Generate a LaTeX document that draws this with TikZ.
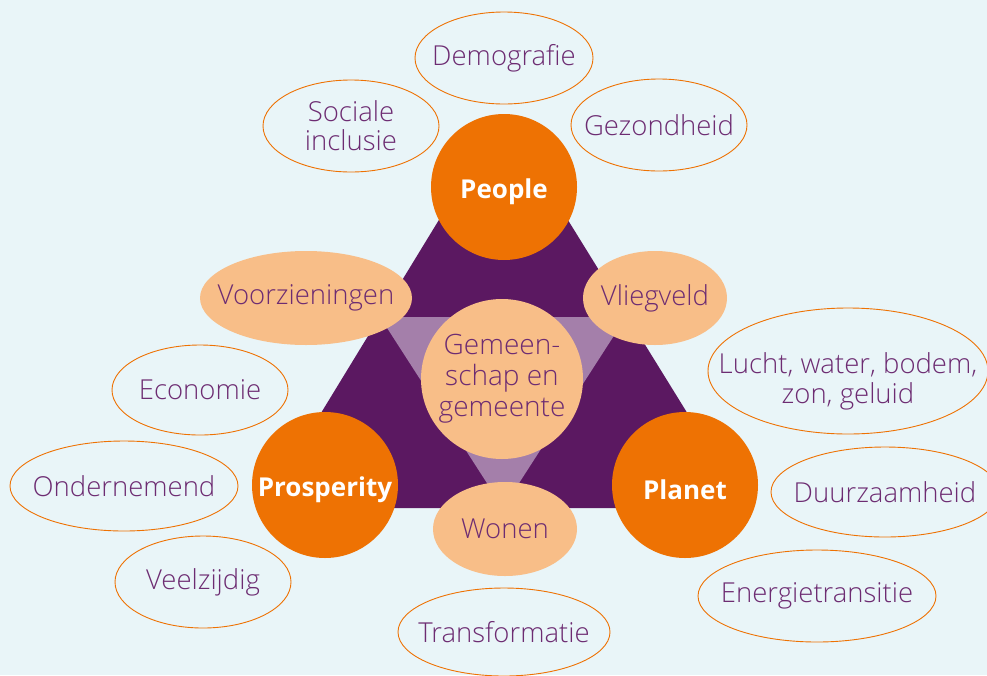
\documentclass[tikz,border=0pt]{standalone}
\usepackage{fontspec}
\setmainfont{Open Sans}[UprightFont=* Light, BoldFont=* Bold]
\usetikzlibrary{shapes.geometric}
\definecolor{bgblue}{HTML}{E9F5F8}
\definecolor{darkpurple}{HTML}{5B1861}
\definecolor{lightpurple}{HTML}{A47FAA}
\definecolor{pillarorange}{HTML}{EE7203}
\definecolor{lightorange}{HTML}{F8BE88}
\definecolor{textpurple}{HTML}{6D2C72}

\begin{document}
\begin{tikzpicture}[x=1pt, y=-1pt,
    every label/.style={text=textpurple, align=center, inner sep=0pt, font=\fontsize{27.5}{29}\selectfont},
    pillar/.style={circle, fill=pillarorange, text=white, inner sep=0pt, minimum size=146pt, font=\fontsize{26}{28}\selectfont\bfseries},
    pillartext/.style={yshift=-5pt},
    theme/.style={ellipse, fill=lightorange, inner sep=0pt},
    topic/.style={ellipse, draw=pillarorange, line width=0.9pt, inner sep=0pt}]
        % Background
        \fill[bgblue] (0,0) rectangle (987,675);
        \useasboundingbox (0,0) rectangle (987,675);
        % Triangles
        \fill[darkpurple] (503,115) -- (746,508) -- (263,508) -- cycle;
        \fill[lightpurple] (380,317) -- (626,317) -- (503,508) -- cycle;
        % Themes
        \node[theme, minimum width=162pt, minimum height=160pt, label={[font=\fontsize{28}{31}\selectfont]center:Gemeen-\\schap en\\gemeente}] (gemeenschap) at (502,379) {};
        \node[theme, minimum width=212pt, minimum height=94pt, label={center:Voorzieningen}] (voorzieningen) at (306,298) {};
        \node[theme, minimum width=144pt, minimum height=94pt, label={center:Vliegveld}] (vliegveld) at (655,298) {};
        \node[theme, minimum width=144pt, minimum height=94pt, label={center:Wonen}] (wonen) at (505,529) {};
        % Pillars
        \node[pillar, label={[pillar, fill=none, minimum size=0pt, text=white, pillartext]center:People}] (people) at (504,187) {};
        \node[pillar, label={[pillar, fill=none, minimum size=0pt, text=white, pillartext]center:Prosperity}] (prosperity) at (325,485) {};
        \node[pillar, label={[pillar, fill=none, minimum size=0pt, text=white, pillartext]center:Planet}] (planet) at (685,485) {};
        % Topics
        \node[topic, minimum width=178pt, minimum height=92pt, label={center:Demografie}] (demografie) at (504,58) {};
        \node[topic, minimum width=176pt, minimum height=92pt, label={center:Sociale\\inclusie}] (sociale) at (351,126) {};
        \node[topic, minimum width=176pt, minimum height=92pt, label={center:Gezondheid}] (gezondheid) at (659,125) {};
        \node[topic, minimum width=176pt, minimum height=90pt, label={center:Economie}] (economie) at (200,390) {};
        \node[topic, minimum width=228pt, minimum height=90pt, label={center:Ondernemend}] (ondernemend) at (124,486) {};
        \node[topic, minimum width=176pt, minimum height=92pt, label={center:Veelzijdig}] (veelzijdig) at (203,582) {};
        \node[topic, minimum width=212pt, minimum height=88pt, label={center:Transformatie}] (transformatie) at (504,632) {};
        \node[topic, minimum width=280pt, minimum height=126pt, label={[yshift=-10pt, font=\fontsize{27.5}{30}\selectfont]center:Lucht, water, bodem,\\zon, geluid}] (lucht) at (848,371) {};
        \node[topic, minimum width=228pt, minimum height=90pt, label={center:Duurzaamheid}] (duurzaamheid) at (885,492) {};
        \node[topic, minimum width=238pt, minimum height=92pt, label={center:Energietransitie}] (energie) at (817,596) {};
\end{tikzpicture}
\end{document}
